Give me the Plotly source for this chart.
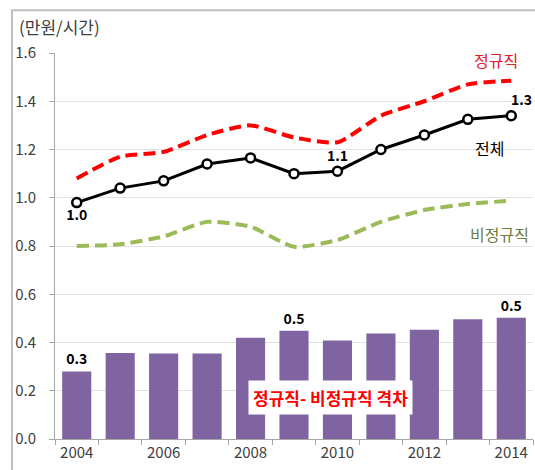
import plotly.graph_objects as go

years = [2004, 2005, 2006, 2007, 2008, 2009, 2010, 2011, 2012, 2013, 2014]
regular = [1.08, 1.17, 1.19, 1.26, 1.30, 1.25, 1.23, 1.34, 1.40, 1.47, 1.485]
total = [0.98, 1.04, 1.07, 1.14, 1.165, 1.10, 1.11, 1.20, 1.26, 1.325, 1.34]
nonregular = [0.80, 0.807, 0.84, 0.90, 0.88, 0.797, 0.825, 0.90, 0.949, 0.974, 0.988]
gap = [0.28, 0.356, 0.354, 0.354, 0.42, 0.449, 0.408, 0.437, 0.453, 0.496, 0.503]
total_labels = ["1.0", "", "", "", "", "", "1.1", "", "", "", "1.3"]
gap_labels = ["0.3", "", "", "", "", "0.5", "", "", "", "", "0.5"]
y_ticks = [0.0, 0.2, 0.4, 0.6, 0.8, 1.0, 1.2, 1.4, 1.6]
x_ticks = [2004, 2006, 2008, 2010, 2012, 2014]

FONT = "Noto Sans CJK KR"


def bold(labels):
    return ["<b>%s</b>" % s if s else "" for s in labels]


fig = go.Figure()
fig.add_trace(go.Bar(
    x=years, y=gap, width=0.67, marker=dict(color="#8064A2", line=dict(width=0)),
    text=bold(gap_labels), textposition="outside", cliponaxis=False,
    textfont=dict(family=FONT, size=14, color="#000000"),
    hoverinfo="skip",
))
fig.add_trace(go.Scatter(
    x=years, y=regular, mode="lines",
    line=dict(color="#FF0000", width=4, dash="12px,6px", shape="spline", smoothing=0.6),
))
fig.add_trace(go.Scatter(
    x=years, y=nonregular, mode="lines",
    line=dict(color="#9BBB59", width=4, dash="12px,6px", shape="spline", smoothing=0.6),
))
# last label handled as annotation (shifted right like the reference)
scatter_text = bold(total_labels[:-1]) + [""]
fig.add_trace(go.Scatter(
    x=years, y=total, mode="lines+markers+text",
    line=dict(color="#000000", width=3),
    marker=dict(symbol="circle", size=9, color="#FFFFFF", line=dict(color="#000000", width=2.5)),
    text=scatter_text,
    textposition=["bottom center"] + ["top center"] * 10,
    textfont=dict(family=FONT, size=14, color="#000000"),
    cliponaxis=False,
))

ann = [
    dict(x=2013.65, y=1.571, text="정규직", font=dict(color="#E0202C", size=16)),
    dict(x=2013.5, y=1.206, text="전체", font=dict(color="#000000", size=16)),
    dict(x=2013.74, y=0.85, text="비정규직", font=dict(color="#6E7D3C", size=16)),
    dict(x=2009.83, y=0.17, text="<b>정규직- 비정규직 격차</b>",
         font=dict(color="#FF0000", size=17), bgcolor="#FFFFFF", borderpad=4),
    dict(x=years[-1], y=total[-1], text="<b>%s</b>" % total_labels[-1], xshift=10, yshift=17,
         font=dict(color="#000000", size=14)),
]
annotations = []
for a in ann:
    a.update(xref="x", yref="y", showarrow=False)
    a["font"]["family"] = FONT
    annotations.append(a)
annotations.append(dict(xref="paper", yref="paper", x=-0.08, y=1.03, xanchor="left", yanchor="bottom",
                        text="(만원/시간)", showarrow=False,
                        font=dict(family=FONT, size=17, color="#404040")))

fig.update_layout(
    width=535, height=470,
    margin=dict(l=55, r=2, t=53, b=31),
    paper_bgcolor="#FFFFFF", plot_bgcolor="#FFFFFF",
    showlegend=False,
    annotations=annotations,
    shapes=[dict(type="rect", xref="paper", yref="paper", x0=-0.09, x1=1.2, y0=-0.3, y1=1.111,
                 line=dict(color="#BFBFBF", width=2), layer="below")],
    font=dict(family=FONT),
)
fig.update_xaxes(
    range=[2003.5, 2014.5], tickvals=x_ticks, ticktext=[str(v) for v in x_ticks],
    ticks="", showgrid=False, showline=True, linecolor="#A6A6A6", linewidth=1,
    tickfont=dict(family=FONT, size=15, color="#404040"),
    minor=dict(tick0=2003.5, dtick=1, ticks="outside", ticklen=5, tickcolor="#A6A6A6", showgrid=False),
    zeroline=False,
)
fig.update_yaxes(
    range=[0, 1.6], tickvals=y_ticks, ticktext=["%.1f" % v for v in y_ticks],
    ticks="outside", ticklen=5, tickcolor="#A6A6A6",
    showgrid=True, gridcolor="#E3E3E3", gridwidth=1,
    showline=True, linecolor="#A6A6A6", linewidth=1,
    tickfont=dict(family=FONT, size=15, color="#404040"),
    ticklabelstandoff=10, zeroline=False,
)

fig.write_html("out.html", config={"displayModeBar": False},
               post_script="document.body.style.margin='0';document.body.style.overflow='hidden';")
